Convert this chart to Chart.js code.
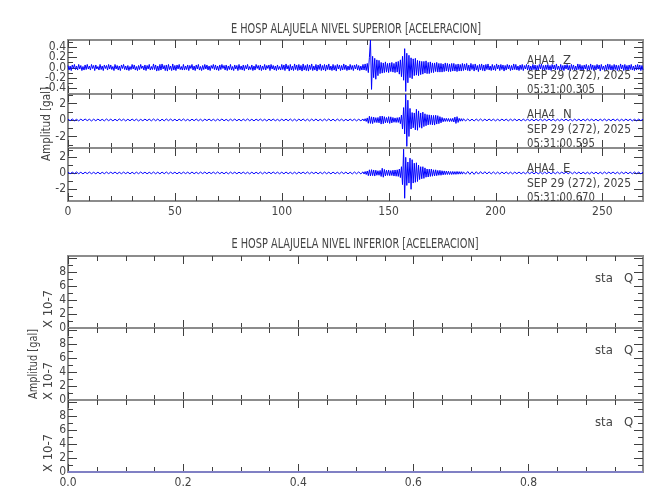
<!DOCTYPE html>
<html>
<head>
<meta charset="utf-8">
<title>E HOSP ALAJUELA</title>
<script src="https://cdn.jsdelivr.net/npm/chart.js@4.4.0/dist/chart.umd.min.js"></script>
<style>
  body { margin: 0; background: #fff; }
  #wrap { position: relative; width: 650px; height: 500px; overflow: hidden; }
  #wrap canvas { position: absolute; left: 0; }
</style>
</head>
<body>
<div id="wrap">
  <canvas id="pZ"></canvas>
  <canvas id="pN"></canvas>
  <canvas id="pE"></canvas>
  <canvas id="q1"></canvas>
  <canvas id="q2"></canvas>
  <canvas id="q3"></canvas>
</div>
<script>
// sampling grids of the traces (seconds): [start, end, step]
const zSegments = [[0, 269, 0.5]];
const neSegments = [[0, 138, 1], [138.5, 185, 0.5], [186, 269, 1]];

// Z channel, gal x 100 (0.5 s)
const zCentigal = [
  4,-5,3,-6,5,-2,6,-4,3,-5,6,-3,4,-6,2,-5,5,-4,6,-3,
  3,-5,6,-2,4,-6,5,-3,2,-5,6,-4,3,-6,5,-2,4,-5,6,-3,
  5,-4,2,-6,6,-3,4,-5,3,-6,5,-2,6,-4,3,-5,4,-6,2,-4,
  6,-3,5,-5,2,-6,4,-4,6,-2,3,-5,5,-6,4,-3,6,-5,2,-4,
  7,-4,5,-7,3,-6,6,-5,7,-3,4,-6,5,-7,6,-4,3,-6,7,-5,
  4,-6,5,-3,6,-4,2,-5,6,-5,3,-4,5,-6,4,-2,6,-5,3,-6,
  5,-3,6,-5,2,-6,4,-4,6,-3,5,-5,3,-6,4,-2,6,-4,5,-5,
  3,-6,5,-4,6,-2,4,-5,5,-6,3,-4,6,-5,2,-6,5,-3,4,-6,
  6,-4,3,-5,5,-6,4,-3,6,-5,2,-4,5,-6,3,-5,6,-2,4,-5,
  5,-6,3,-4,6,-5,4,-2,5,-6,6,-3,4,-5,3,-6,5,-4,2,-5,
  6,-4,5,-6,7,-3,4,-7,6,-5,3,-6,7,-4,5,-6,6,-5,4,-7,
  7,-5,4,-6,6,-7,5,-4,7,-6,3,-5,6,-7,5,-4,7,-6,4,-5,
  6,-7,5,-4,7,-5,3,-6,6,-5,4,-7,6,-3,5,-6,4,-5,7,-4,
  5,-6,3,-5,6,-4,4,-6,5,-3,6,-5,4,-6,3,-5,6,
  -5,7,-6,8,-10,20,54,-43,22,-20, 18,-23,15,-16,14,-12,10,-11,9,-10,
  11,-9,8,-10,9,-8,10,-9,8,-10, 11,-9,12,-13,15,-18,22,-25,37,-47,
  28,-30,24,-20,19,-22,17,-16,18,-15, 14,-16,13,-14,12,-13,12,-11,13,-12,
  10,-12,11,-10,9,-10,9,-8,10,-9, 8,-9,8,-9,7,-8,9,-7,8,-8,
  7,-8,8,-7,8,-7,6,-8,7,-7, 6,-7,8,-6,
  7,-5,8,-6,5,-7,8,-4,6,-7,7,-5,4,-8,6,-5,7,-6,5,-7,
  6,-4,7,-5,3,-6,6,-5,4,-6,7,-3,5,-6,6,-4,5,-7,4,-5,
  6,-3,5,-6,4,-5,7,-4,6,-5,3,-6,5,-4,6,-6,4,-3,6,-5,
  5,-6,3,-5,6,-4,5,-7,4,-5,6,-3,7,-5,4,-6,5,-4,6,-5,
  4,-6,6,-3,5,-5,7,-4,3,-6,6,-5,4,-6,5,-3,6,-5,4,-7,
  6,-4,5,-6,3,-5,7,-4,6,-5,4,-6,5,-3,6,-6,4,-5,7,-4,
  5,-6,4,-5,6,-3,5,-7,6,-4,3,-6,5,-5,7,-4,6,-5,4,-6,
  6,-4,5,-6,4,-5,7,-3,5,-6,6,-5,4,-6,5,-4,6,-5,3,-6,
  5,-5,6,-4,5,-6,4,-5
];

// N channel, gal x 100
const nCentigal = [
  10,-9,12,-10,8,-11,10,-9,12,-8, 9,-12,10,-10,11,-9,8,-11,12,-9, 10,-11,9,-10,12,-8,10,-12,9,-10,
  11,-9,10,-12,8,-10,11,-9,10,-11, 12,-10,11,-13,10,-11,12,-9,11,-10, 9,-11,10,-9,12,-10,8,-11,10,-9,
  11,-10,9,-12,10,-8,11,-10,9,-11, 10,-9,12,-10,8,-11,10,-9,11,-10, 9,-11,10,-9,12,-10,9,-11,10,-8,
  11,-10,9,-12,10,-9,11,-10,8,-11, 10,-9,11,-10,12,-11,10,-12,11,-10, 12,-11,10,-12,11,-10,12,-11,9,-11,
  11,-10,12,-11,10,-12,11,-9,10,-11, 9,-10,11,-9,10,-11,9,-10,11,
  -12,15,-18,25,-40,45,-42,38,-44,35, -30,28,-32,30,-35,45,-50,48,-45,40,
  -35,30,-33,40,-42,38,-36,30,-28,25, -30,28,-30,32,-45,60,-110,150,-170,310,
  -320,240,-200,140,-110,90,-95,85,-120,130, -125,110,-90,85,-100,95,-80,75,-70,65,
  -60,62,-55,58,-60,55,-62,58,-50,52, -45,40,-35,30,-22,20,-18,20,-17,18,
  -20,17,-18,20,-25,35,-42,40,-30,20, -15,16,-14,15,
  -13,12,-11,10,-12,11,-10,12,-11,10, -10,11,-9,10,-11,9,-10,11,-9,10, -11,10,-9,11,-10,9,-11,10,-9,10,
  -10,9,-11,10,-9,11,-10,9,-10,11, -9,10,-11,9,-10,11,-9,10,-10,9, -11,10,-9,10,-11,9,-10,11,-9,10,
  -10,9,-11,10,-9,11,-10,9,-10,11, -9,10,-11,9,-10,11,-9,10,-11,9, -10,11,-9,10
];

// E channel, gal x 100
const eCentigal = [
  9,-11,10,-9,12,-10,9,-12,10,-9, 11,-10,9,-11,10,-12,9,-10,11,-9, 10,-9,12,-11,9,-10,11,-9,10,-12,
  9,-11,10,-10,12,-9,10,-11,9,-10, 12,-11,10,-12,11,-10,12,-11,10,-9, 10,-12,9,-10,11,-9,10,-11,12,-10,
  9,-10,11,-9,12,-11,10,-9,11,-10, 12,-10,9,-11,10,-12,11,-9,10,-11, 10,-9,11,-10,9,-12,10,-11,9,-10,
  11,-12,10,-9,11,-10,12,-9,10,-11, 10,-11,12,-10,9,-11,10,-12,11,-9, 11,-10,12,-11,10,-9,11,-12,10,-11,
  12,-11,10,-12,11,-10,9,-11,12,-10, 11,-12,10,-13,12,-11,13,-12,14,
  -14,18,-20,25,-35,40,-38,42,-35,38, -40,35,-30,28,-30,32,-45,60,-55,45,
  -38,35,-32,38,-35,30,-33,35,-40,38, -42,40,-45,50,-60,80,-150,305,-325,200,
  -160,140,-130,190,-210,170,-130,125,-120,130, -110,100,-85,80,-75,80,-70,65,-55,50,
  -52,48,-45,50,-42,40,-38,40,-35,32, -30,33,-30,28,-25,26,-22,24,-20,22,
  -20,18,-20,19,-18,17,-18,19,-16,17, -15,16,-15,14,
  -16,18,-17,15,-18,16,-15,17,-14,16, -13,14,-12,13,-12,11,-13,12,-11,12, -11,10,-12,11,-10,12,-11,10,-11,12,
  -10,11,-12,10,-11,9,-12,11,-10,11, -12,10,-11,12,-10,11,-9,12,-11,10, -11,12,-10,11,-12,10,-11,9,-12,11,
  -10,11,-12,10,-11,12,-10,11,-9,12, -11,10,-12,11,-10,12,-11,10,-11,12, -10,11,-12,10
];

// lower level: no signal (sta Q), flat line at zero
const quietTimes = [0, 0.999];
const quietValues = [0, 0];

const stationDate = 'SEP 29 (272), 2025';
const upperStamps = ['05:31:00.305', '05:31:00.595', '05:31:00.670'];

const FONT = "'Liberation Sans Narrow', 'DejaVu Sans Condensed', 'Liberation Sans', sans-serif";
const TXT = '#444444';
Chart.defaults.font.family = FONT;
Chart.defaults.color = TXT;

function gridTimes(segs) {
  const out = [];
  segs.forEach(([a, b, s]) => {
    for (let t = a; t <= b + 1e-9; t += s) out.push(Math.round(t * 10) / 10);
  });
  return out;
}

function toPoints(times, vals, div) {
  const n = Math.min(times.length, vals.length);
  if (times.length !== vals.length) console.warn('length mismatch', times.length, vals.length);
  const pts = [];
  for (let i = 0; i < n; i++) pts.push({x: times[i], y: vals[i] / div});
  return pts;
}

const isMult = (v, m) => Math.abs(v / m - Math.round(v / m)) < 1e-6;

function drawText(ctx, s, x, y, opt) {
  ctx.save();
  ctx.font = (opt.size || 13) + 'px ' + FONT;
  ctx.fillStyle = TXT;
  ctx.textAlign = opt.align || 'left';
  ctx.textBaseline = 'middle';
  ctx.translate(x, y);
  if (opt.rot) ctx.rotate(opt.rot);
  if (opt.w) ctx.fillText(s, 0, 0, opt.w); else ctx.fillText(s, 0, 0);
  ctx.restore();
}

const framePlugin = {
  id: 'frame',
  beforeDatasetsDraw(chart) {
    const p = chart.options.plugins.frame;
    const {ctx, chartArea: a, scales: {x, y}} = chart;
    ctx.save();
    ctx.strokeStyle = '#8c8c8c';
    ctx.lineWidth = 2;
    ctx.strokeRect(a.left, a.top, a.right - a.left, a.bottom - a.top);
    ctx.strokeStyle = '#404040';
    ctx.lineWidth = 1;
    ctx.beginPath();
    x.ticks.forEach(t => {
      const px = Math.round(x.getPixelForValue(t.value)) + 0.5;
      const len = isMult(t.value, p.xMajor) ? 8 : 5;
      ctx.moveTo(px, a.top); ctx.lineTo(px, a.top + len);
      ctx.moveTo(px, a.bottom); ctx.lineTo(px, a.bottom - len);
    });
    y.ticks.forEach(t => {
      const py = Math.round(y.getPixelForValue(t.value)) + 0.5;
      const len = isMult(t.value, p.yMajor) ? 9 : 5;
      ctx.moveTo(a.left, py); ctx.lineTo(a.left + len, py);
      ctx.moveTo(a.right, py); ctx.lineTo(a.right - len, py);
    });
    ctx.stroke();
    ctx.restore();
  },
  afterDatasetsDraw(chart) {
    const p = chart.options.plugins.frame;
    const ctx = chart.ctx;
    (p.texts || []).forEach(t => drawText(ctx, t.s, t.x, t.y - p.canvasTop, t));
  }
};

function makePanel(p) {
  const cv = document.getElementById(p.id);
  cv.width = 650;
  cv.height = p.canvasH;
  cv.style.top = p.canvasTop + 'px';
  const xh = p.showX ? 22 : 0;
  const padTop = p.top - p.canvasTop;
  const padBottom = p.canvasTop + p.canvasH - p.bottom - xh;
  new Chart(cv, {
    type: 'line',
    data: {
      datasets: [{
        data: p.points,
        borderColor: p.color,
        borderWidth: p.lw,
        pointRadius: 0,
        tension: 0,
        fill: false,
        clip: p.clip
      }]
    },
    options: {
      responsive: false,
      animation: false,
      events: [],
      parsing: false,
      layout: {padding: {left: 0, right: 7, top: padTop, bottom: padBottom}},
      plugins: {
        legend: {display: false},
        tooltip: {enabled: false},
        frame: {xMajor: p.xMajor, yMajor: p.yMajor, texts: p.texts, canvasTop: p.canvasTop}
      },
      scales: {
        x: {
          type: 'linear', min: 0, max: p.xMax,
          afterFit: s => { s.height = xh; },
          grid: {display: false, drawTicks: false},
          border: {display: false},
          ticks: {
            display: !!p.showX, stepSize: p.xStep, autoSkip: false, includeBounds: false,
            maxRotation: 0, padding: 4, font: {size: 12},
            callback: v => isMult(v, p.xMajor) && v <= p.xLabelMax ? p.xFmt(v) : ''
          }
        },
        y: {
          type: 'linear', min: p.yMin, max: p.yMax,
          afterFit: s => { s.width = 68; },
          grid: {display: false, drawTicks: false},
          border: {display: false},
          ticks: {
            stepSize: p.yStep, autoSkip: false, includeBounds: false, padding: 2, font: {size: 12},
            callback: v => isMult(v, p.yMajor) && v <= p.yLabelMax ? p.yFmt(v) : ''
          }
        }
      }
    },
    plugins: [framePlugin]
  });
}

const upperX = {xMax: 269, xStep: 10, xMajor: 50, xLabelMax: 260, xFmt: v => String(v)};
const lowerX = {xMax: 0.999, xStep: 0.05, xMajor: 0.2, xLabelMax: 0.9, xFmt: v => v.toFixed(1)};

function stationTexts(chan, stamp, top) {
  return [
    {s: 'AHA4', x: 527, y: top + 21, w: 28},
    {s: chan, x: 563, y: top + 21},
    {s: stationDate, x: 527, y: top + 36, w: 104},
    {s: stamp, x: 527, y: top + 50, w: 68}
  ];
}

const upperPanels = [
  {id: 'pZ', canvasTop: 0, canvasH: 104, top: 40, bottom: 94, times: gridTimes(zSegments), vals: zCentigal,
   yMin: -0.52, yMax: 0.54, yStep: 0.1, yMajor: 0.2, yLabelMax: 0.5, yFmt: v => v.toFixed(1),
   texts: [{s: 'E HOSP ALAJUELA NIVEL SUPERIOR [ACELERACION]', x: 356, y: 29, align: 'center', w: 250, size: 14}]
     .concat(stationTexts('Z', upperStamps[0], 40))},
  {id: 'pN', canvasTop: 84, canvasH: 84, top: 94, bottom: 148, times: gridTimes(neSegments), vals: nCentigal,
   yMin: -3.4, yMax: 3.15, yStep: 1, yMajor: 2, yLabelMax: 3, yFmt: v => String(v),
   texts: [{s: 'Amplitud [gal]', x: 47, y: 124, align: 'center', rot: -Math.PI / 2, w: 74}]
     .concat(stationTexts('N', upperStamps[1], 94))},
  {id: 'pE', canvasTop: 138, canvasH: 90, top: 148, bottom: 201, times: gridTimes(neSegments), vals: eCentigal, showX: true,
   yMin: -3.6, yMax: 3.2, yStep: 1, yMajor: 2, yLabelMax: 3, yFmt: v => String(v),
   texts: stationTexts('E', upperStamps[2], 148)}
];

upperPanels.forEach(p => makePanel(Object.assign({}, upperX, p, {
  points: toPoints(p.times, p.vals, 100), color: '#0000ff', lw: 1, clip: 2
})));

const lowerGeo = [
  {id: 'q1', canvasTop: 226, canvasH: 112, top: 256, bottom: 328,
   extra: [{s: 'E HOSP ALAJUELA NIVEL INFERIOR [ACELERACION]', x: 355, y: 244, align: 'center', w: 247, size: 14}]},
  {id: 'q2', canvasTop: 318, canvasH: 92, top: 328, bottom: 400,
   extra: [{s: 'Amplitud [gal]', x: 34, y: 364, align: 'center', rot: -Math.PI / 2, w: 70}]},
  {id: 'q3', canvasTop: 390, canvasH: 110, top: 400, bottom: 472, showX: true, extra: []}
];

lowerGeo.forEach(g => makePanel(Object.assign({}, lowerX, g, {
  points: toPoints(quietTimes, quietValues, 1), color: '#8080c4', lw: 2, clip: false,
  yMin: 0, yMax: 10.3, yStep: 1, yMajor: 2, yLabelMax: 8, yFmt: v => String(v),
  texts: g.extra.concat([
    {s: 'X 10-7', x: 49, y: g.bottom - 19, align: 'center', rot: -Math.PI / 2, w: 38},
    {s: 'sta', x: 595, y: g.top + 23},
    {s: 'Q', x: 624, y: g.top + 23}
  ])
})));
</script>
</body>
</html>
